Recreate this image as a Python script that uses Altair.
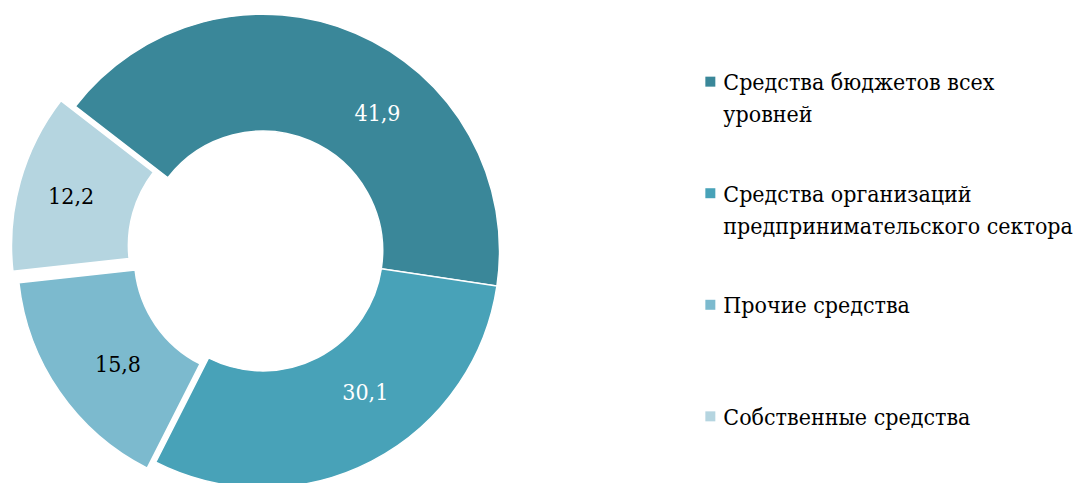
import altair as alt
import pandas as pd

categories = [
    "Средства бюджетов всех уровней",
    "Средства организаций предпринимательского сектора",
    "Прочие средства",
    "Собственные средства",
]
legend_labels = [
    "Средства бюджетов всех\nуровней",
    "Средства организаций\nпредпринимательского сектора",
    "Прочие средства",
    "Собственные средства",
]
values = [41.9, 30.1, 15.8, 12.2]
value_labels = ["41,9", "30,1", "15,8", "12,2"]

# styles
colors = ["#3a8799", "#48a2b8", "#7cbace", "#b5d5e0"]
label_colors = ["white", "white", "black", "black"]
explode = [(0, 0), (0, 0), (-8.5, 6), (-14.5, -5.5)]
label_nudge = [(45, 27), (21, -16), (10, 7), (-6, 0)]
CX, CY = 254, 243
FONT = "DejaVu Serif Condensed"

df = pd.DataFrame({
    "cat": categories,
    "legend": legend_labels,
    "value": values,
    "label": value_labels,
    "order": list(range(len(categories))),
})

theta_scale = alt.Scale(domain=[0, 100], range=[5.370, 5.370 + 6.2832])
color_scale = alt.Scale(domain=categories, range=colors)

base = alt.Chart(df).transform_window(
    end="sum(value)", sort=[alt.SortField("order")], frame=[None, 0]
).transform_calculate(
    start="datum.end - datum.value",
    mid="datum.end - datum.value / 2",
)

layers = []
for i, cat in enumerate(categories):
    dx, dy = explode[i]
    arc = base.transform_filter(alt.datum.cat == cat).mark_arc(
        outerRadius=237, innerRadius=120, stroke="white", strokeWidth=1.5
    ).encode(
        theta=alt.Theta("start:Q", scale=theta_scale),
        theta2="end:Q",
        color=alt.Color("cat:N", scale=color_scale, legend=None),
        x=alt.value(CX + dx),
        y=alt.value(CY + dy),
    )
    layers.append(arc)

for i, cat in enumerate(categories):
    dx, dy = explode[i]
    nx, ny = label_nudge[i]
    txt = base.transform_filter(alt.datum.cat == cat).mark_text(
        radius=178, font=FONT, fontSize=23, color=label_colors[i],
        align="center", baseline="middle",
    ).encode(
        theta=alt.Theta("mid:Q", scale=theta_scale),
        text="label:N",
        x=alt.value(CX + dx + nx),
        y=alt.value(CY + dy + ny),
    )
    layers.append(txt)

yscale = alt.Scale(range=[82, 417], padding=0)
legend_sq = alt.Chart(df).mark_square(size=100, opacity=1, yOffset=-8.5).encode(
    x=alt.value(702),
    y=alt.Y("cat:N", sort=categories, axis=None, scale=yscale),
    color=alt.Color("cat:N", scale=color_scale, legend=None),
)
legend_txt = alt.Chart(df).mark_text(
    align="left", baseline="alphabetic", font=FONT, fontSize=23,
    lineBreak="\n", lineHeight=32, color="black",
).encode(
    x=alt.value(715),
    y=alt.Y("cat:N", sort=categories, axis=None, scale=yscale),
    text="legend:N",
)
layers += [legend_sq, legend_txt]

chart = alt.layer(*layers).properties(
    width=1067, height=467, padding=0
).configure_view(stroke=None)

chart.save("out.html", embed_options={"renderer": "svg", "actions": False})
